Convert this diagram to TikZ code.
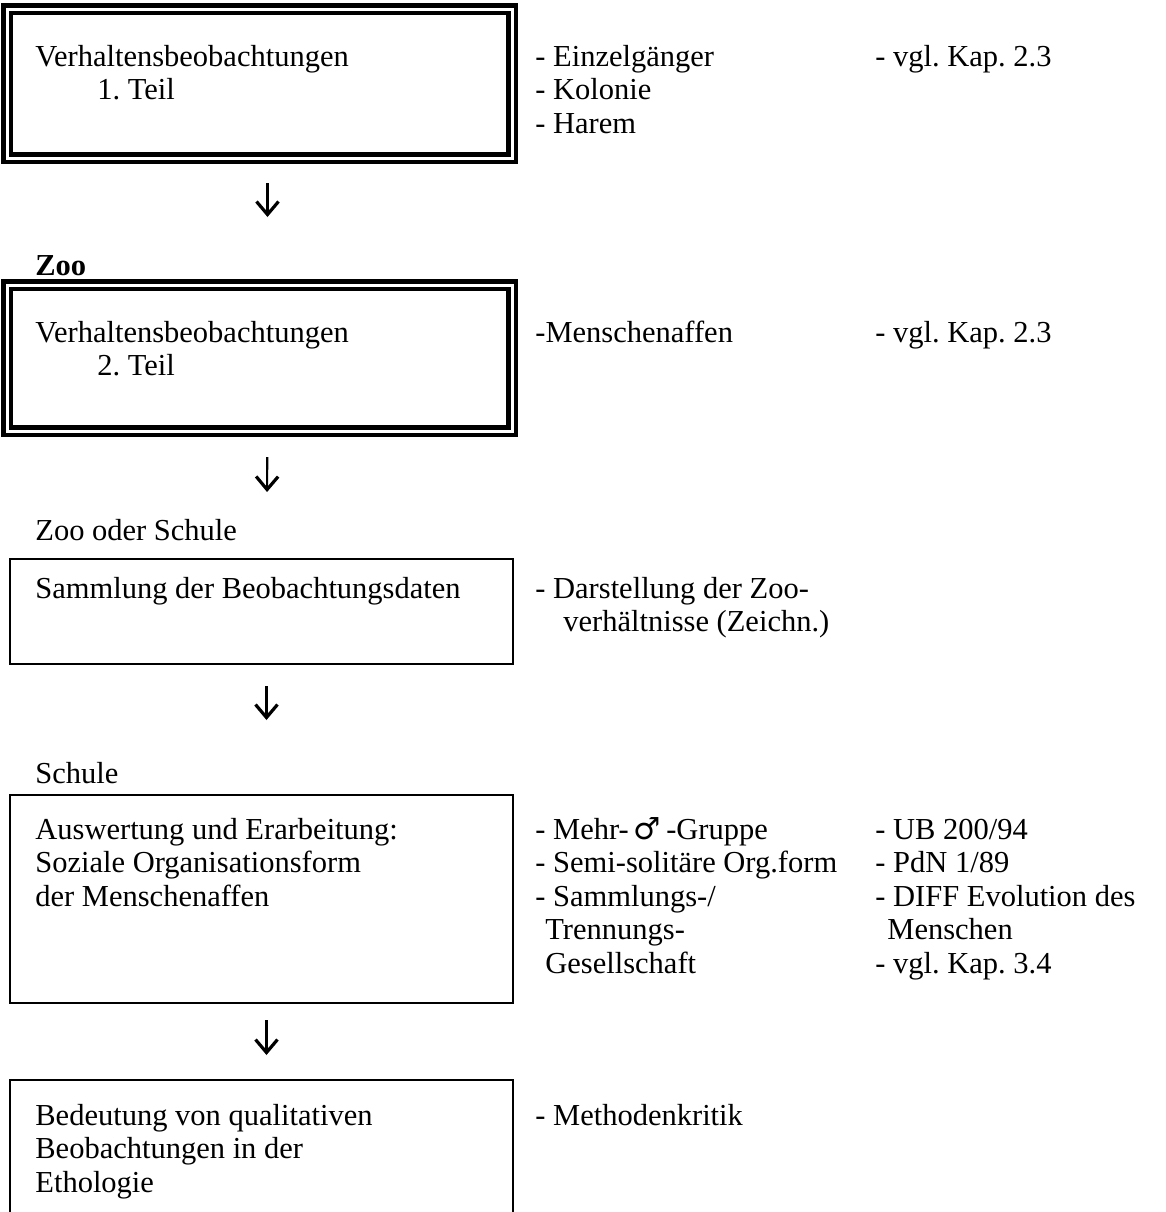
\documentclass[tikz,border=0pt]{standalone}
\usepackage{fontspec}
\setmainfont{Liberation Serif}
\newfontfamily\symbolfont{DejaVu Sans}
\usetikzlibrary{arrows.meta, positioning}
\frenchspacing

\begin{document}
\begin{tikzpicture}[
    x=0.5pt, y=-0.5pt,
    font=\fontsize{15.25pt}{16.75pt}\selectfont,
    dbox/.style={draw, double, line width=2.2pt, double distance=1.5pt,
      inner sep=0pt, outer sep=0pt, anchor=north west, minimum width=252.5pt},
    sbox/.style={draw, line width=1.3pt, inner sep=0pt, outer sep=0pt,
      anchor=north west, minimum width=251.5pt},
    txt/.style={anchor=base west, align=left, inner sep=0pt},
    arrow/.style={line width=1.05pt,
      -{Straight Barb[length=6.5pt, width=11pt, line width=1.6pt]}}
]
\clip (0,0) rectangle (1166,1212);

\node[dbox, minimum height=74.5pt] (verh1) at (7,9) {};
\node[dbox, minimum height=73pt] (verh2) at (7,285) {};
\node[sbox, minimum height=52.5pt] (samml) at (10,559) {};
\node[sbox, minimum height=104pt] (ausw) at (10,795) {};
\node[sbox, minimum height=85pt] (bedeut) at (10,1080) {};

\node[txt] (verh1txt) at (35,99.5) {Verhaltensbeobachtungen\\\hspace*{31pt}1. Teil};
\node[txt] (einzel) at (535,133) {- Einzelgänger\\- Kolonie\\- Harem};
\node[txt] (kap1) at (875,66) {- vgl. Kap. 2.3};

\node[txt] (zoo) at (35,275) {\bfseries Zoo};
\node[txt] (verh2txt) at (35,375.5) {Verhaltensbeobachtungen\\\hspace*{31pt}2. Teil};
\node[txt] (affen) at (535,342) {-Menschenaffen};
\node[txt] (kap2) at (875,342) {- vgl. Kap. 2.3};

\node[txt] (zooschule) at (35,540) {Zoo oder Schule};
\node[txt] (sammltxt) at (35,598) {Sammlung der Beobachtungsdaten};
\node[txt] (darst) at (535,631.5) {- Darstellung der Zoo-\\\hspace*{14pt}verhältnisse (Zeichn.)};

\node[txt] (schule) at (35,783) {Schule};
\node[txt] (auswtxt) at (35,906) {Auswertung und Erarbeitung:\\Soziale Organisationsform\\der Menschenaffen};
\node[txt] (formen) at (535,973) {- Mehr-\,\smash{\symbolfont ♂}\,-Gruppe\\- Semi-solitäre Org.form\\- Sammlungs-/\\\hspace*{5pt}Trennungs-\\\hspace*{5pt}Gesellschaft};
\node[txt] (quellen) at (875,973) {- UB 200/94\\- PdN 1/89\\- DIFF Evolution des\\\hspace*{6pt}Menschen\\- vgl. Kap. 3.4};

\node[txt] (bedtxt) at (35,1192) {Bedeutung von qualitativen\\Beobachtungen in der\\Ethologie};
\node[txt] (kritik) at (535,1125) {- Methodenkritik};

\draw[arrow, shorten <=12.5pt, shorten >=34pt] ([xshift=4pt]verh1.south) -- ([xshift=4pt]verh2.north);
\draw[arrow, shorten <=13pt, shorten >=33.5pt] ([xshift=4pt]verh2.south) -- ([xshift=2.5pt]samml.north);
\draw[arrow, shorten <=11pt, shorten >=37.5pt] ([xshift=2.5pt]samml.south) -- ([xshift=2.5pt]ausw.north);
\draw[arrow, shorten <=8.5pt, shorten >=12.5pt] ([xshift=2.5pt]ausw.south) -- ([xshift=2.5pt]bedeut.north);
\end{tikzpicture}
\end{document}
